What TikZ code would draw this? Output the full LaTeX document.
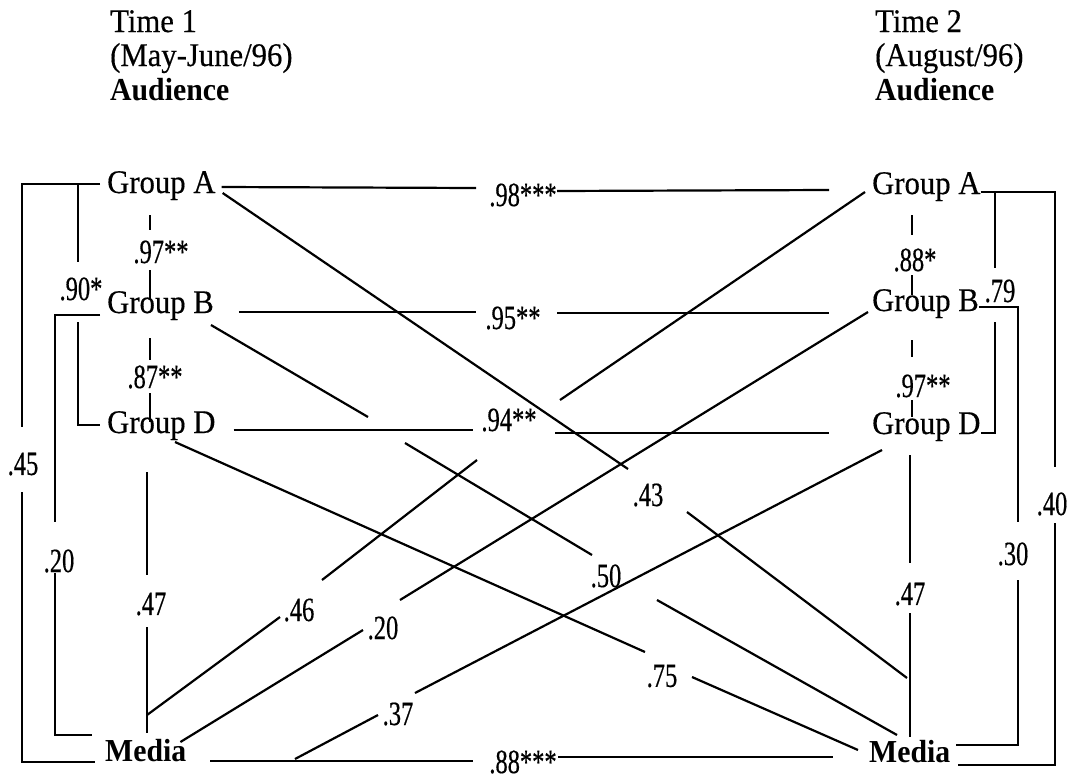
\documentclass[tikz,border=0pt]{standalone}
\usepackage{fontspec}
\setmainfont{Liberation Serif}[FakeStretch=0.93, UprightFeatures={FakeBold=0.4}]
\newfontfamily\labfont{Liberation Serif}[FakeStretch=0.72, FakeBold=0.4]
\usetikzlibrary{calc}

\begin{document}
\begin{tikzpicture}[x=1pt,y=-1pt]
\tikzset{
  grp/.style={inner sep=0pt, anchor=base west, font=\fontsize{33}{38}\selectfont},
  med/.style={inner sep=0pt, anchor=base west, font=\fontsize{32}{38}\selectfont\bfseries},
  hdr/.style={inner sep=0pt, anchor=base west, font=\fontsize{33}{38}\selectfont},
  hdrb/.style={hdr, font=\fontsize{32}{38}\selectfont\bfseries},
  lab/.style={inner sep=0pt, font=\labfont\fontsize{34}{38}\selectfont},
  conn/.style={line width=2.2pt},
}
\useasboundingbox (0,0) rectangle (1073,782);

% column headings
\node[hdr]  (t1) at (110,32)  {Time 1};
\node[hdr]  (p1) at (110,66)  {(May-June/96)};
\node[hdrb] (h1) at (110,100) {Audience};
\node[hdr]  (t2) at (875,32)  {Time 2};
\node[hdr]  (p2) at (875,66)  {(August/96)};
\node[hdrb] (h2) at (875,100) {Audience};

% variables at time 1 and time 2
\node[grp] (lA) at (107,193) {Group A};
\node[grp] (lB) at (107,313) {Group B};
\node[grp] (lD) at (107,433) {Group D};
\node[med] (lM) at (105,761) {Media};
\node[grp] (rA) at (872,194) {Group A};
\node[grp] (rB) at (872,311) {Group B};
\node[grp] (rD) at (872,434) {Group D};
\node[med] (rM) at (869,762) {Media};

% break points of the connectors
\coordinate (k45a) at (22,427);   \coordinate (k45b) at (22,492);
\coordinate (k90t) at (78,184);   \coordinate (k90a) at (78,262);   \coordinate (k90b) at (78,322);
\coordinate (k20a) at (55,522);   \coordinate (k20b) at (55,573);
\coordinate (kABa) at (150,230);  \coordinate (kABb) at (150,270);
\coordinate (kBDa) at (150,360);  \coordinate (kBDb) at (150,393);
\coordinate (kL47a) at (147,575); \coordinate (kL47b) at (147,627);
\coordinate (k40a) at (1055,467); \coordinate (k40b) at (1055,523);
\coordinate (k79t) at (995,192);  \coordinate (k79a) at (995,268);  \coordinate (k79b) at (995,322);
\coordinate (k30a) at (1018,522); \coordinate (k30b) at (1018,580);
\coordinate (kR88a) at (912,235); \coordinate (kR88b) at (912,275);
\coordinate (kR97a) at (912,357); \coordinate (kR97b) at (912,400);
\coordinate (kR47a) at (910,563); \coordinate (kR47b) at (910,613);
\coordinate (k98a) at (476,188);  \coordinate (k98b) at (557,191);
\coordinate (k95a) at (476,312);  \coordinate (k95b) at (557,313);
\coordinate (k94a) at (473,430);  \coordinate (k94b) at (555,433);
\coordinate (kM88a) at (473,761); \coordinate (kM88b) at (558,757);
\coordinate (k43a) at (628,469);  \coordinate (k43b) at (687,512);  \coordinate (k43e) at (907,678);
\coordinate (k50a) at (368,417);  \coordinate (k50b) at (405,443);
\coordinate (k50c) at (592,555);  \coordinate (k50d) at (657,600);
\coordinate (k75a) at (645,652);  \coordinate (k75b) at (692,677);
\coordinate (k46s) at (147,715);  \coordinate (k46a) at (280,617);  \coordinate (k46b) at (322,580);
\coordinate (k46c) at (477,460);  \coordinate (k46d) at (560,400);
\coordinate (kM20a) at (363,630); \coordinate (kM20b) at (400,600);
\coordinate (k37s) at (295,759);  \coordinate (k37a) at (378,715);  \coordinate (k37b) at (415,693);

% time 1 brackets
\draw[conn] ($(lA.base west)+(-7,-9)$) -| (k45a);
\draw[conn] (k45b) |- ($(lM.base west)+(-10,1)$);
\draw[conn] (k90t) -- (k90a);
\draw[conn] (k90b) |- ($(lD.base west)+(-7,-8)$);
\draw[conn] ($(lB.base west)+(-7,2)$) -| (k20a);
\draw[conn] (k20b) |- ($(lM.base west)+(-13,-26)$);
\draw[conn] ($(lA.base west)+(43,22)$) -- (kABa);
\draw[conn] (kABb) -- ($(lB.base west)+(43,-13)$);
\draw[conn] ($(lB.base west)+(43,25)$) -- (kBDa);
\draw[conn] (kBDb) -- ($(lD.base west)+(43,-11)$);
\draw[conn] ($(lD.base west)+(40,39)$) -- (kL47a);
\draw[conn] (kL47b) -- ($(lM.base west)+(42,-28)$);

% time 2 brackets
\draw[conn] ($(rA.base east)+(0,-2)$) -| (k40a);
\draw[conn] (k40b) |- ($(rM.base east)+(8,3)$);
\draw[conn] (k79t) -- (k79a);
\draw[conn] (k79b) |- ($(rD.base east)+(0,-1)$);
\draw[conn] ($(rB.base east)+(0,-4)$) -| (k30a);
\draw[conn] (k30b) |- ($(rM.base east)+(6,-17)$);
\draw[conn] ($(rA.base west)+(40,21)$) -- (kR88a);
\draw[conn] (kR88b) -- ($(rB.base west)+(40,-16)$);
\draw[conn] ($(rB.base west)+(40,29)$) -- (kR97a);
\draw[conn] (kR97b) -- ($(rD.base west)+(40,-17)$);
\draw[conn] ($(rD.base west)+(38,21)$) -- (kR47a);
\draw[conn] (kR47b) -- ($(rM.base west)+(41,-25)$);

% stability paths
\draw[conn] ($(lA.base east)+(6,-6)$) -- (k98a);
\draw[conn] (k98b) -- ($(rA.base west)+(-43,-4)$);
\draw[conn] ($(lB.base east)+(25,-1)$) -- (k95a);
\draw[conn] (k95b) -- ($(rB.base west)+(-43,2)$);
\draw[conn] ($(lD.base east)+(18,-3)$) -- (k94a);
\draw[conn] (k94b) -- ($(rD.base west)+(-43,-1)$);
\draw[conn] ($(lM.base east)+(24,0)$) -- (kM88a);
\draw[conn] (kM88b) -- ($(rM.base west)+(-36,-5)$);

% cross-lagged paths
\draw[conn] ($(lA.base east)+(7,0)$) -- (k43a);
\draw[conn] (k43b) -- (k43e);
\draw[conn] ($(lB.base east)+(-3,12)$) -- (k50a);
\draw[conn] (k50b) -- (k50c);
\draw[conn] (k50d) -- ($(rM.base west)+(28,-27)$);
\draw[conn] ($(lD.base west)+(68,9)$) -- (k75a);
\draw[conn] (k75b) -- ($(rM.base west)+(-11,-12)$);
\draw[conn] (k46s) -- (k46a);
\draw[conn] (k46b) -- (k46c);
\draw[conn] (k46d) -- ($(rA.base west)+(-7,-2)$);
\draw[conn] ($(lM.base east)+(-6,-19)$) -- (kM20a);
\draw[conn] (kM20b) -- ($(rB.base west)+(-4,1)$);
\draw[conn] (k37s) -- (k37a);
\draw[conn] (k37b) -- ($(rD.base west)+(10,16)$);

% coefficients
\node[lab] (c45)  at (23,464)   {.45};
\node[lab] (c90)  at (81,289)   {.90*};
\node[lab] (cL20) at (59,561)   {.20};
\node[lab] (cL97) at (161,252)  {.97**};
\node[lab] (cL87) at (155,377)  {.87**};
\node[lab] (cL47) at (151,604)  {.47};
\node[lab] (c98)  at (523,195)  {.98***};
\node[lab] (c95)  at (513,318)  {.95**};
\node[lab] (c94)  at (509,420)  {.94**};
\node[lab] (cM88) at (523,762)  {.88***};
\node[lab] (c46)  at (299,610)  {.46};
\node[lab] (cM20) at (383,628)  {.20};
\node[lab] (c37)  at (398,714)  {.37};
\node[lab] (c43)  at (648,495)  {.43};
\node[lab] (c50)  at (606,576)  {.50};
\node[lab] (c75)  at (662,676)  {.75};
\node[lab] (cR88) at (915,260)  {.88*};
\node[lab] (cR97) at (923,386)  {.97**};
\node[lab] (c79)  at (1000,291) {.79};
\node[lab] (cR47) at (910,594)  {.47};
\node[lab] (c30)  at (1013,554) {.30};
\node[lab] (c40)  at (1052,504) {.40};
\end{tikzpicture}
\end{document}
